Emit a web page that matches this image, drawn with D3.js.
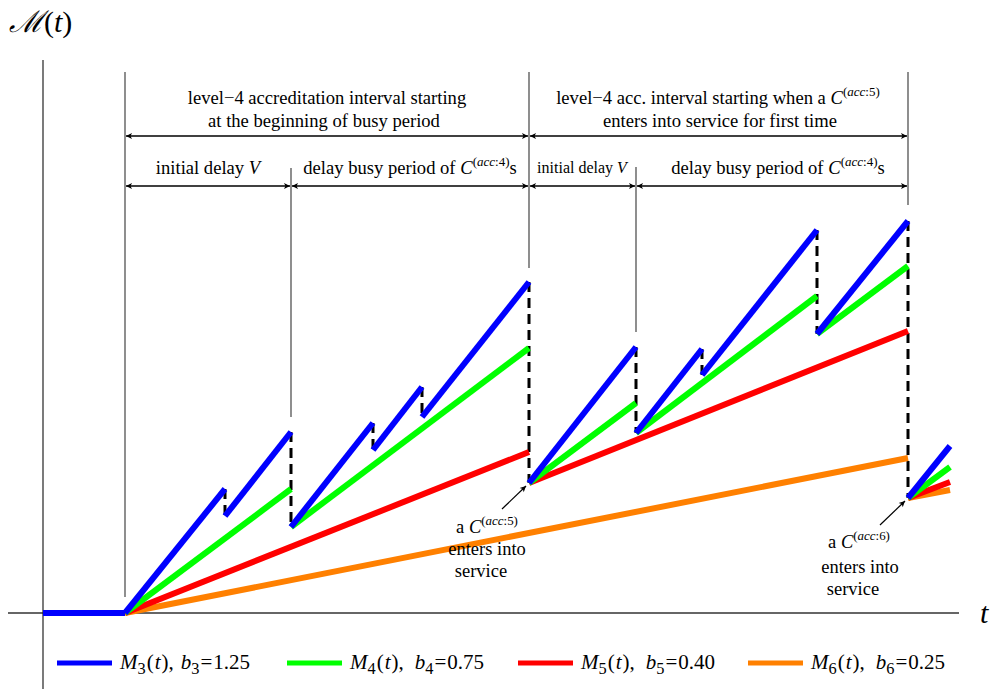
<!DOCTYPE html>
<html>
<head>
<meta charset="utf-8">
<script src="https://cdn.jsdelivr.net/npm/d3@7"></script>
<style>
  body { margin: 0; background: #fff; }
  svg { display: block; }
  text { font-family: "Liberation Serif", "Times New Roman", serif; fill: #000; }
</style>
</head>
<body>
<svg id="chart" width="994" height="689"></svg>
<script>
// Sample paths of the accumulated priority M_k(t); each piece is [[t0, M0], [t1, M1]]
const m3Pieces = [
  [[0, 0], [0.82, 0]],
  [[0.82, 0], [1.82, 1.24]],
  [[1.82, 0.97], [2.48, 1.81]],
  [[2.48, 0.86], [3.30, 1.90]],
  [[3.30, 1.63], [3.79, 2.26]],
  [[3.79, 1.96], [4.86, 3.31]],
  [[4.86, 1.30], [5.93, 2.66]],
  [[5.93, 1.80], [6.59, 2.64]],
  [[6.59, 2.38], [7.74, 3.83]],
  [[7.74, 2.79], [8.65, 3.92]],
  [[8.65, 1.15], [9.07, 1.67]]
];
const m4Pieces = [
  [[0, 0], [0.82, 0]],
  [[0.82, 0], [2.48, 1.24]],
  [[2.48, 0.86], [4.86, 2.65]],
  [[4.86, 1.30], [5.93, 2.10]],
  [[5.93, 1.80], [7.74, 3.17]],
  [[7.74, 2.79], [8.65, 3.47]],
  [[8.65, 1.15], [9.07, 1.46]]
];
const m5Pieces = [
  [[0, 0], [0.82, 0]],
  [[0.82, 0], [4.86, 1.61]],
  [[4.86, 1.30], [8.65, 2.82]],
  [[8.65, 1.15], [9.07, 1.31]]
];
const m6Pieces = [
  [[0, 0], [0.82, 0]],
  [[0.82, 0], [8.65, 1.55]],
  [[8.65, 1.15], [9.07, 1.23]]
];

// Downward jumps of the top path when a customer enters service: [t, from, to]
const jumps = [
  [1.82, 1.24, 0.97], [2.48, 1.81, 0.86], [3.30, 1.90, 1.63],
  [3.79, 2.26, 1.96], [4.86, 3.31, 1.30], [5.93, 2.66, 1.80],
  [6.59, 2.64, 2.38], [7.74, 3.83, 2.79], [8.65, 3.92, 1.15]
];

// Interval boundaries: [t, upper M, lower M]
const boundaries = [
  [0.82, 5.41, 0.16], [2.48, 4.45, 1.96], [4.86, 5.41, 3.45],
  [5.93, 4.46, 2.81], [8.65, 5.41, 4.08]
];

// Interval arrows: [t start, t end, M level]
const spans = [
  [0.82, 4.86, 4.77], [4.86, 8.65, 4.77],
  [0.82, 2.48, 4.27], [2.48, 4.86, 4.27], [4.86, 5.93, 4.27], [5.93, 8.65, 4.27]
];

// Legend entries
const seriesIndex = ["3", "4", "5", "6"];
const bValues = [1.25, 0.75, 0.40, 0.25];
const seriesColors = ["#0000ff", "#00ff00", "#ff0000", "#ff8000"];

const svg = d3.select("#chart");
const x = d3.scaleLinear().domain([0, 9.51]).range([43, 994]);
const y = d3.scaleLinear().domain([0, 6.13]).range([613, 0]);

const defs = svg.append("defs");
defs.append("marker").attr("id", "ah").attr("viewBox", "0 0 10 10")
  .attr("refX", 10).attr("refY", 5).attr("markerWidth", 10).attr("markerHeight", 6)
  .attr("markerUnits", "userSpaceOnUse").attr("orient", "auto-start-reverse")
  .append("path").attr("d", "M0,0 L10,5 L0,10 L2.5,5 Z").attr("fill", "#000");

// Axes
svg.append("line").attr("x1", x(-0.35)).attr("x2", x(9.16)).attr("y1", y(0)).attr("y2", y(0))
  .attr("stroke", "#333").attr("stroke-width", 1.3);
svg.append("line").attr("x1", x(0)).attr("x2", x(0)).attr("y1", y(5.53)).attr("y2", y(-0.76))
  .attr("stroke", "#222").attr("stroke-width", 1.2);

// Interval boundaries
svg.selectAll(".bound").data(boundaries).join("line")
  .attr("x1", d => x(d[0])).attr("x2", d => x(d[0]))
  .attr("y1", d => y(d[1])).attr("y2", d => y(d[2]))
  .attr("stroke", "#444").attr("stroke-width", 1.2);

// Dashed jumps
svg.selectAll(".jump").data(jumps).join("line")
  .attr("x1", d => x(d[0])).attr("x2", d => x(d[0]))
  .attr("y1", d => y(d[1])).attr("y2", d => y(d[2]))
  .attr("stroke", "#000").attr("stroke-width", 3).attr("stroke-dasharray", "10,6");

// Sample paths, lowest first so the top path is drawn over the others
const line = d3.line().x(d => x(d[0])).y(d => y(d[1]));
[m6Pieces, m5Pieces, m4Pieces, m3Pieces].forEach((pieces, i) => {
  const color = seriesColors[3 - i];
  svg.append("g").selectAll("path").data(pieces).join("path")
    .attr("d", line).attr("fill", "none").attr("stroke", color)
    .attr("stroke-width", 6).attr("stroke-linecap", "butt");
});

// Rich text helper: parts carry italic / superscript / subscript flags
function rich(g, px, py, parts, size, anchor) {
  const t = g.append("text").attr("x", px).attr("y", py)
    .attr("font-size", size).attr("text-anchor", anchor || "middle");
  let shift = 0;
  parts.forEach(p => {
    const ts = t.append("tspan").text(p.s);
    if (p.i) ts.attr("font-style", "italic");
    if (p.dx) ts.attr("dx", p.dx);
    let target = 0;
    if (p.sup) { target = -0.42 * size; ts.attr("font-size", size * 0.7); }
    if (p.sub) { target = 0.22 * size; ts.attr("font-size", size * 0.78); }
    if (target !== shift) { ts.attr("dy", target - shift); shift = target; }
  });
  return t;
}
const cAcc = n => [
  { s: "C", i: true }, { s: "(", sup: true }, { s: "acc", i: true, sup: true }, { s: ":" + n + ")", sup: true }
];

// Double-headed interval arrows
svg.selectAll(".span").data(spans).join("line")
  .attr("x1", d => x(d[0]) + 1).attr("x2", d => x(d[1]) - 1)
  .attr("y1", d => y(d[2])).attr("y2", d => y(d[2]))
  .attr("stroke", "#000").attr("stroke-width", 1.3)
  .attr("marker-start", "url(#ah)").attr("marker-end", "url(#ah)");

const ann = svg.append("g");
rich(ann, 327, 104, [{ s: "level\u22124 accreditation interval starting" }], 18.6);
rich(ann, 324, 127, [{ s: "at the beginning of busy period" }], 18.6);
rich(ann, 718, 104, [{ s: "level\u22124 acc. interval starting when a " }].concat(cAcc(5)), 18.6);
rich(ann, 720, 127, [{ s: "enters into service for first time" }], 18.6);
rich(ann, 208, 174, [{ s: "initial delay " }, { s: "V", i: true }], 18.6);
rich(ann, 410, 174, [{ s: "delay busy period of " }].concat(cAcc(4), [{ s: "s" }]), 18.6);
rich(ann, 582, 173, [{ s: "initial delay " }, { s: "V", i: true }], 16);
rich(ann, 778, 174, [{ s: "delay busy period of " }].concat(cAcc(4), [{ s: "s" }]), 18.6);

// Service-entry callouts
rich(ann, 487, 533, [{ s: "a " }].concat(cAcc(5)), 18.5);
rich(ann, 487, 555, [{ s: "enters into" }], 18.5);
rich(ann, 481, 577, [{ s: "service" }], 18.5);
rich(ann, 859, 548, [{ s: "a " }].concat(cAcc(6)), 18.5);
rich(ann, 860, 573, [{ s: "enters into" }], 18.5);
rich(ann, 853, 595, [{ s: "service" }], 18.5);
svg.append("line").attr("x1", 502).attr("y1", 509).attr("x2", x(4.86) - 3).attr("y2", y(1.30) + 3)
  .attr("stroke", "#000").attr("stroke-width", 1.2).attr("marker-end", "url(#ah)");
svg.append("line").attr("x1", 880).attr("y1", 525).attr("x2", x(8.65) - 3).attr("y2", y(1.15) + 3)
  .attr("stroke", "#000").attr("stroke-width", 1.2).attr("marker-end", "url(#ah)");

// Axis titles
svg.append("text").attr("x", 9).attr("y", 32).attr("font-size", 30)
  .html('<tspan font-style="italic">\u2133</tspan>(<tspan font-style="italic">t</tspan>)');
svg.append("text").attr("x", 980).attr("y", 623).attr("font-size", 30)
  .attr("font-style", "italic").text("t");

// Legend
const legendX = [57, 287, 518, 748];
const lg = svg.append("g");
seriesIndex.forEach((k, i) => {
  lg.append("line").attr("x1", legendX[i]).attr("x2", legendX[i] + 55)
    .attr("y1", 663).attr("y2", 663).attr("stroke", seriesColors[i]).attr("stroke-width", 5);
  rich(lg, legendX[i] + 63, 669, [
    { s: "M", i: true }, { s: k, sub: true }, { s: "(", dx: 1 }, { s: "t", i: true, dx: 1 },
    { s: ")", dx: 1 }, { s: ",", dx: 0 }, { s: "b", i: true, dx: i === 0 ? 7 : 11 }, { s: k, sub: true },
    { s: "=", dx: 1 }, { s: bValues[i].toFixed(2), dx: 1 }
  ], 21, "start");
});
</script>
</body>
</html>
